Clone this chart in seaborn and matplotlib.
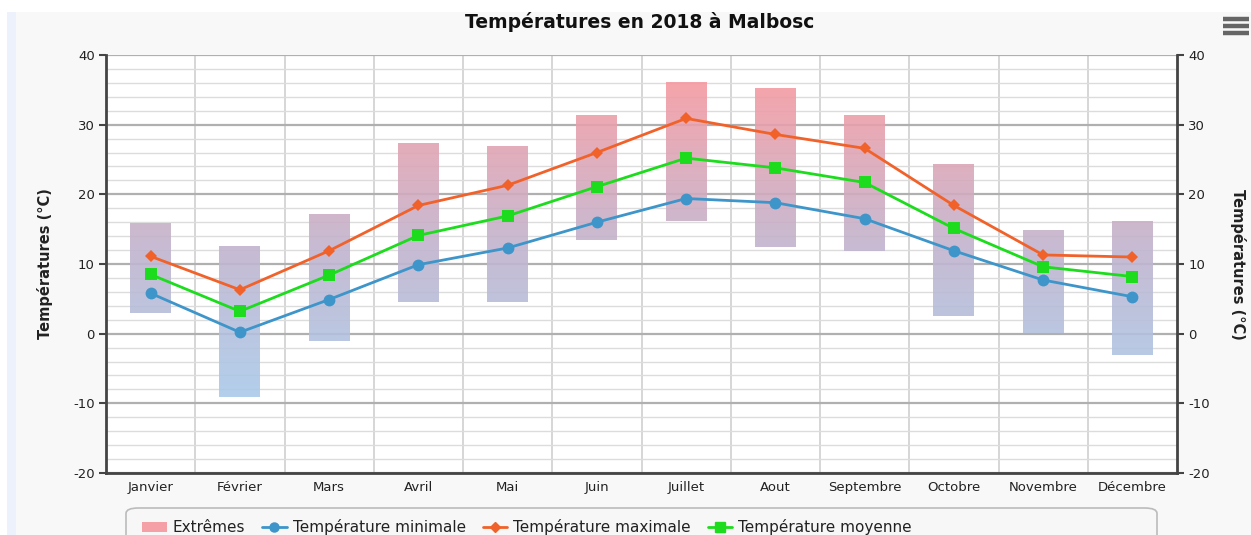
import numpy as np
import pandas as pd
import matplotlib
matplotlib.use("Agg")
import matplotlib.pyplot as plt
import seaborn as sns
from matplotlib.colors import LinearSegmentedColormap
from matplotlib.path import Path
from matplotlib.patches import PathPatch, FancyBboxPatch, Rectangle
from matplotlib.lines import Line2D
from matplotlib.ticker import MultipleLocator, FixedLocator

# ---- data ----
months = ["Janvier", "Février", "Mars", "Avril", "Mai", "Juin", "Juillet",
          "Aout", "Septembre", "Octobre", "Novembre", "Décembre"]
t_min = [5.8, 0.2, 4.9, 9.9, 12.3, 16.0, 19.4, 18.8, 16.5, 11.9, 7.7, 5.3]
t_max = [11.1, 6.3, 11.9, 18.4, 21.3, 26.0, 30.9, 28.6, 26.6, 18.4, 11.3, 11.0]
t_moy = [8.5, 3.2, 8.4, 14.1, 16.9, 21.1, 25.2, 23.8, 21.7, 15.1, 9.6, 8.2]
ext_low = [3.0, -9.1, -1.0, 4.6, 4.6, 13.4, 16.2, 12.5, 11.8, 2.6, 0.1, -3.0]
ext_high = [15.9, 12.6, 17.2, 27.4, 26.9, 31.4, 36.1, 35.2, 31.4, 24.4, 14.9, 16.2]
y_ticks = [-20, -10, 0, 10, 20, 30, 40]

c_min = "#3d95c9"
c_max = "#f1622b"
c_moy = "#1ddc1d"

sns.set_theme(style="white")
plt.rcParams["font.family"] = ["DejaVu Sans"]
plt.rcParams["axes.unicode_minus"] = False

fig = plt.figure(figsize=(12.51, 5.35), dpi=100)
fig.patch.set_facecolor("#ffffff")
# background panels
fig.add_artist(Rectangle((16 / 1251, 0), 1 - 16 / 1251, 1 - 12 / 535, transform=fig.transFigure,
                         facecolor="#f8f8f8", edgecolor="none", zorder=-10))
fig.add_artist(Rectangle((7 / 1251, 0), 9 / 1251, 1 - 12 / 535, transform=fig.transFigure,
                         facecolor="#edf1fb", edgecolor="none", zorder=-10))

ax = fig.add_axes([106 / 1251, 1 - 473 / 535, (1177 - 106) / 1251, (473 - 55) / 535])
ax.set_facecolor("white")

x = np.arange(len(months))
df = pd.DataFrame({"x": x, "mois": months, "min": t_min, "max": t_max, "moy": t_moy,
                   "low": ext_low, "high": ext_high})

# range bars (extremes)
heights = df["high"] - df["low"]
bars = ax.bar(df["x"], heights, bottom=df["low"], width=0.46, color="none",
              edgecolor="none", zorder=2)
paths = [b.get_path().transformed(b.get_patch_transform()) for b in bars]
compound = Path.make_compound_path(*paths)
clip = PathPatch(compound, transform=ax.transData, facecolor="none", edgecolor="none")
ax.add_patch(clip)
cmap = LinearSegmentedColormap.from_list("ext", ["#a9cbeb", "#c2b3cd", "#f59aa1"])
grad = np.linspace(-10, 36, 256).reshape(-1, 1)
im = ax.imshow(grad, extent=(-0.5, 11.5, -10, 36), origin="lower", cmap=cmap,
               aspect="auto", alpha=0.9, zorder=2)
im.set_clip_path(clip)

# lines
sns.lineplot(data=df, x="x", y="min", ax=ax, color=c_min, marker="o", markersize=8.5,
             markeredgewidth=0, linewidth=2, zorder=4, sort=False)
sns.lineplot(data=df, x="x", y="max", ax=ax, color=c_max, marker="D", markersize=6,
             markeredgewidth=0, linewidth=2, zorder=5, sort=False)
sns.lineplot(data=df, x="x", y="moy", ax=ax, color=c_moy, marker="s", markersize=8,
             markeredgewidth=0, linewidth=2, zorder=4, sort=False)

ax.set_xlim(-0.5, 11.5)
ax.set_ylim(-20, 40)
ax.set_xlabel("")
ax.set_ylabel("Températures (°C)", fontsize=10.5, fontweight="bold", color="#222222", va="center")
ax.yaxis.set_label_coords((45 - 106) / 1071, 0.5)

# grid
ax.yaxis.set_major_locator(FixedLocator(y_ticks))
ax.yaxis.set_minor_locator(MultipleLocator(2))
ax.grid(which="major", axis="y", color="#b0b0b0", linewidth=1.6, zorder=0)
ax.grid(which="minor", axis="y", color="#dcdcdc", linewidth=1.0, zorder=0)
ax.set_axisbelow(True)
for b in np.arange(0.5, 11.5, 1.0):
    ax.axvline(b, color="#cfcfcf", linewidth=1.2, zorder=0.5)

ax.set_xticks(x)
ax.set_xticklabels(months, fontsize=9.5, color="#222222")
ax.xaxis.set_minor_locator(FixedLocator(np.arange(-0.5, 12.0, 1.0)))
ax.tick_params(axis="x", which="major", length=0, pad=6)
ax.tick_params(axis="x", which="minor", length=6, width=1.5, color="#444444", direction="out")
ax.tick_params(axis="y", which="major", length=5, width=1.5, color="#444444", labelsize=9.5,
               labelcolor="#222222", direction="out", left=True, pad=3)
ax.tick_params(axis="y", which="minor", length=0)

for s in ["left", "right", "bottom"]:
    ax.spines[s].set_visible(True)
    ax.spines[s].set_color("#444444")
    ax.spines[s].set_linewidth(2)
ax.spines["top"].set_visible(False)

# right axis
ax2 = ax.twinx()
ax2.set_ylim(ax.get_ylim())
ax2.yaxis.set_major_locator(FixedLocator(y_ticks))
ax2.tick_params(axis="y", which="major", length=5, width=1.5, color="#444444", labelsize=9.5,
                labelcolor="#222222", direction="out", pad=3)
ax2.grid(False)
for s in ["left", "right", "bottom", "top"]:
    ax2.spines[s].set_visible(False)
ax2.set_ylabel("Températures (°C)", fontsize=10.5, fontweight="bold", color="#222222",
               rotation=270, va="center")
ax2.yaxis.set_label_coords((1238 - 106) / 1071, 0.5)

# title
fig.text(640 / 1251, 1 - 22 / 535, "Températures en 2018 à Malbosc", ha="center", va="center",
         fontsize=13.5, fontweight="bold", color="#111111")

# hamburger icon
for yy in [19, 26, 33]:
    fig.add_artist(Line2D([1223 / 1251, 1249 / 1251], [1 - yy / 535, 1 - yy / 535],
                          transform=fig.transFigure, color="#666666", linewidth=3.2,
                          solid_capstyle="butt"))

# legend box
fig.add_artist(FancyBboxPatch((126 / 1251, -0.05), (1157 - 126) / 1251, 0.05 + (535 - 508) / 535,
                              boxstyle="round,pad=0,rounding_size=0.01", transform=fig.transFigure,
                              facecolor="#f7f7f7", edgecolor="#bbbbbb", linewidth=1.2))
handles = [
    Rectangle((0, 0), 1, 1, facecolor="#f5a0a6", edgecolor="none"),
    Line2D([], [], color=c_min, marker="o", markersize=6.5, linewidth=2),
    Line2D([], [], color=c_max, marker="D", markersize=5, linewidth=2),
    Line2D([], [], color=c_moy, marker="s", markersize=6.5, linewidth=2),
]
labels = ["Extrêmes", "Température minimale", "Température maximale", "Température moyenne"]
leg = fig.legend(handles, labels, loc="upper left", bbox_to_anchor=(130 / 1251, 1 - 507 / 535),
                 ncol=4, frameon=False, fontsize=11, handlelength=1.6, handletextpad=0.4,
                 columnspacing=1.1, borderpad=0.3)
for t in leg.get_texts():
    t.set_color("#222222")

fig.savefig("out.png", dpi=100, facecolor=fig.get_facecolor())
